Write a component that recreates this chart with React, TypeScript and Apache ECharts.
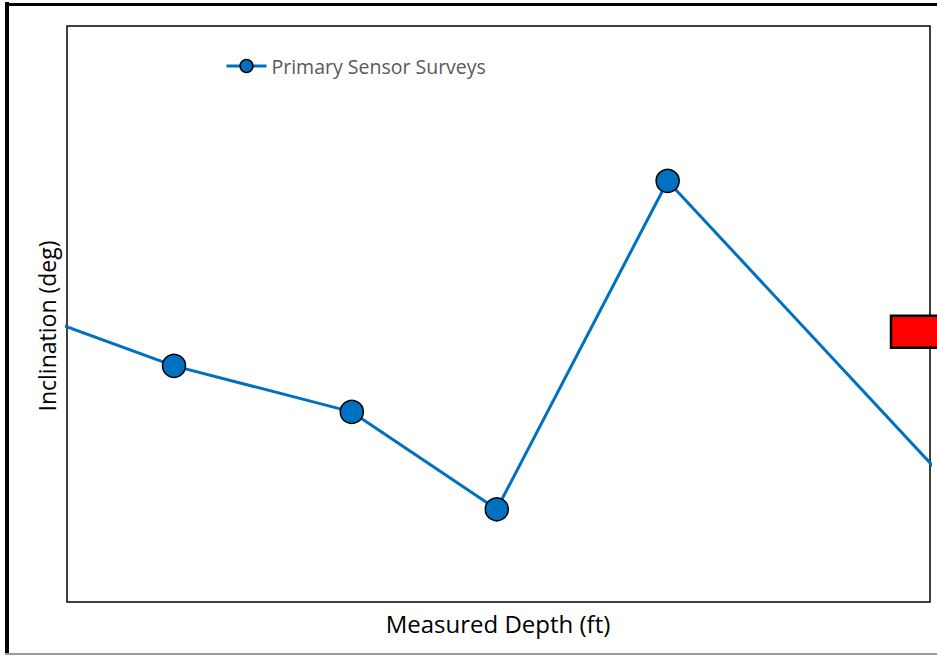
import React, { useEffect, useRef } from "react";
import * as echarts from "echarts";

// Survey data (relative, unlabeled axes)
const depthValues: number[] = [-5, 12.4, 33.0, 49.8, 69.6, 105];
const inclinationValues: number[] = [5.05, 4.1, 3.3, 1.61, 7.31, 1.61];
const bitDepth: number[] = [100];
const bitInclination: number[] = [4.69];

const seriesName = "Primary Sensor Surveys";
const xTitle = "Measured Depth (ft)";
const yTitle = "Inclination (deg)";
const FONT = "'Open Sans', 'Noto Sans', sans-serif";

export default function App() {
  const ref = useRef<HTMLDivElement>(null);
  useEffect(() => {
    if (!ref.current) return;
    const chart = echarts.init(ref.current, undefined, { renderer: "svg" });
    chart.setOption({
      animation: false,
      backgroundColor: "#fff",
      grid: {
        left: 67,
        top: 26,
        right: 7,
        bottom: 55,
        show: true,
        borderColor: "#000",
        borderWidth: 1.5,
        backgroundColor: "transparent",
      },
      xAxis: {
        type: "value",
        min: 0,
        max: 100,
        axisLine: { show: false },
        axisTick: { show: false },
        axisLabel: { show: false },
        splitLine: { show: false },
      },
      yAxis: {
        type: "value",
        min: 0,
        max: 10,
        axisLine: { show: false },
        axisTick: { show: false },
        axisLabel: { show: false },
        splitLine: { show: false },
      },
      legend: {
        left: 220,
        top: 51,
        itemWidth: 40,
        itemHeight: 16,
        itemGap: 4,
        data: [
          {
            name: seriesName,
            lineStyle: { width: 3, color: "#0070C0" },
            itemStyle: { color: "#0070C0", borderColor: "#000", borderWidth: 1.5 },
          },
        ],
        textStyle: { color: "#595959", fontSize: 19.5, fontFamily: FONT },
      },
      graphic: [
        {
          type: "line",
          shape: { x1: 7, y1: 2, x2: 7, y2: 655 },
          style: { stroke: "#000", lineWidth: 4 },
          silent: true,
        },
        {
          type: "line",
          shape: { x1: 5, y1: 4.5, x2: 937, y2: 4.5 },
          style: { stroke: "#000", lineWidth: 3 },
          silent: true,
        },
        {
          type: "line",
          shape: { x1: 5, y1: 654, x2: 937, y2: 654 },
          style: { stroke: "#9a9a9a", lineWidth: 2 },
          silent: true,
        },
        {
          type: "text",
          x: 498,
          y: 623,
          style: {
            text: xTitle,
            fill: "#000",
            fontSize: 24,
            fontFamily: FONT,
            textAlign: "center",
            textVerticalAlign: "middle",
          },
        },
        {
          type: "text",
          x: 47,
          y: 326,
          rotation: Math.PI / 2,
          style: {
            text: yTitle,
            fill: "#000",
            fontSize: 23,
            fontFamily: FONT,
            textAlign: "center",
            textVerticalAlign: "middle",
          },
        },
      ],
      series: [
        {
          name: seriesName,
          type: "line",
          data: depthValues.map((d, i) => [d, inclinationValues[i]]),
          symbol: "circle",
          symbolSize: 23,
          clip: true,
          lineStyle: { color: "#0070C0", width: 3 },
          itemStyle: { color: "#0070C0", borderColor: "#000", borderWidth: 1.5 },
          z: 3,
        },
        {
          name: "Bit",
          type: "custom",
          data: bitDepth.map((d, i) => [d, bitInclination[i]]),
          clip: false,
          z: 5,
          renderItem: (_params: any, api: any) => {
            const c = api.coord([api.value(0), api.value(1)]);
            return {
              type: "rect",
              shape: { x: c[0] - 39, y: c[1] - 16, width: 78, height: 32 },
              style: { fill: "#FF0000", stroke: "#000", lineWidth: 2.5 },
            };
          },
        },
      ],
    });
    return () => chart.dispose();
  }, []);
  return (
    <div
      ref={ref}
      style={{ position: "fixed", left: 0, top: 0, width: 937, height: 657 }}
    />
  );
}
